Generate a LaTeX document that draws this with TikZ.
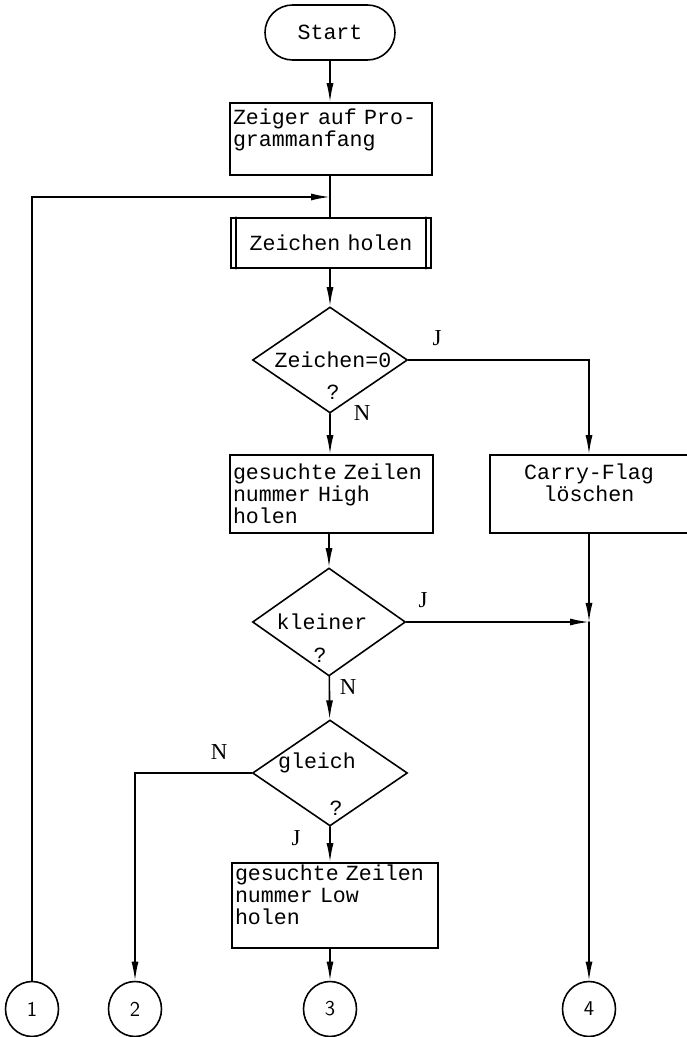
\documentclass[tikz,border=0pt]{standalone}
\usepackage{fontspec}
\setmainfont{Liberation Serif}
\setmonofont{Liberation Mono}
\usetikzlibrary{arrows.meta,shapes.geometric}
\newcommand\typewfont{\ttfamily\fontsize{12.3}{12.6}\selectfont
  \fontdimen2\font=7.38pt\fontdimen3\font=0pt\fontdimen4\font=0pt}

\begin{document}
\begin{tikzpicture}[>={Latex[length=3.8mm,width=1.4mm]},line width=0.9pt,line cap=round,
  font=\typewfont,
  term/.style={draw,rectangle,rounded corners=0.55cm,minimum width=2.6cm,minimum height=1.1cm},
  box/.style={draw,rectangle,inner xsep=0.06cm,inner ysep=0pt,align=left},
  test/.style={draw,diamond,minimum width=3.1cm,minimum height=2.12cm,inner sep=0pt},
  conn/.style={draw,ellipse,minimum width=1.06cm,minimum height=1.1cm,inner sep=0pt,font=\sffamily\fontsize{12}{14}\selectfont},
  yn/.style={font=\rmfamily\fontsize{13}{15}\selectfont}]
\useasboundingbox (0,0) rectangle (13.74,20.74);
\node[term] (start) at (6.6,20.09) {Start};
\node[box,text width=3.92cm,minimum height=1.44cm] (zeiger) at (6.62,17.96) {Zeiger auf Pro-\\grammanfang\\~};
\node[box,align=center,text width=3.88cm,minimum height=1.0cm] (holen) at (6.62,15.88) {Zeichen holen};
\draw ([xshift=0.12cm]holen.north west) -- ([xshift=0.12cm]holen.south west);
\draw ([xshift=-0.12cm]holen.north east) -- ([xshift=-0.12cm]holen.south east);
\node[test] (zero) at (6.6,13.54) {};
\node (zerotxt) at (6.66,13.54) {Zeichen=0};
\node (q1) at (6.66,12.9) {?};
\node[box,text width=3.94cm,minimum height=1.56cm] (high) at (6.63,10.86) {gesuchte Zeilen\\nummer High\\holen};
\node[box,align=center,text width=3.84cm,minimum height=1.56cm] (carry) at (11.78,10.86) {Carry-Flag\\löschen\\~};
\node[test,minimum width=3.06cm,minimum height=2.16cm] (kleiner) at (6.58,8.3) {};
\node (kleinertxt) at (6.44,8.3) {kleiner};
\node (q2) at (6.4,7.64) {?};
\node[test] (gleich) at (6.6,5.28) {};
\node (gleichtxt) at (6.34,5.48) {gleich};
\node (q3) at (6.72,4.58) {?};
\node[box,text width=4.0cm,minimum height=1.7cm] (low) at (6.7,2.63) {gesuchte Zeilen\\nummer Low\\holen\\~};
\node[conn] (c1) at (0.64,0.56) {1};
\node[conn] (c2) at (2.7,0.56) {2};
\node[conn] (c3) at (6.6,0.56) {3};
\node[conn] (c4) at (11.78,0.56) {4};
\node[yn] (j1) at (8.74,13.98) {J};
\node[yn] (n1) at (7.24,12.48) {N};
\node[yn] (j2) at (8.46,8.74) {J};
\node[yn] (n2) at (6.96,7.0) {N};
\node[yn] (n3) at (4.38,5.7) {N};
\node[yn] (j3) at (5.92,3.98) {J};
\coordinate (join1) at (6.6,16.8);
\coordinate (join2) at (carry.south |- kleiner.east);
\draw[->] (start) -- (start |- zeiger.north);
\draw (zeiger.south -| join1) -- (holen.north -| join1);
\draw[->] (c1) |- (join1);
\draw[->] (holen.south -| zero) -- (zero);
\draw[->] (zero) -- (zero |- high.north);
\draw[->] (zero.east) -| (carry);
\draw[->] (high.south -| kleiner) -- (kleiner);
\draw[->] (kleiner) -- (gleich);
\draw[->] (kleiner.east) -- (join2);
\draw[->] (carry) -- (join2);
\draw[->] (join2) -- (c4);
\draw[->] (gleich.west) -| (c2);
\draw[->] (gleich.south) -- (gleich.south |- low.north);
\draw[->] (low.south -| c3) -- (c3);
\end{tikzpicture}
\end{document}
